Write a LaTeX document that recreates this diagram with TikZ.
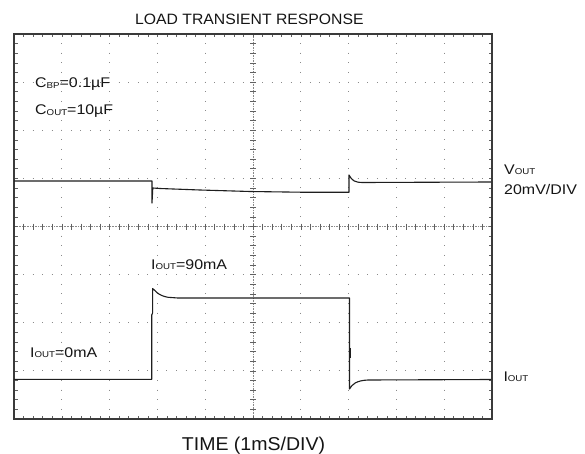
\documentclass[tikz,border=0pt]{standalone}
\usepackage{fontspec}
\setmainfont{Liberation Sans}
\newfontfamily\labf[FakeStretch=1.14]{Liberation Sans}
\newfontfamily\ttlf[FakeStretch=1.05]{Liberation Sans}
\newcommand{\sbx}[1]{\raisebox{-0.6pt}{\fontsize{8.5}{9}\selectfont #1}}
\definecolor{framec}{HTML}{3A3A3A}
\definecolor{gridc}{HTML}{8A8A8A}
\definecolor{tracec}{HTML}{1E1E1E}
\definecolor{textc}{HTML}{151515}
\begin{document}
\begin{tikzpicture}[x=1pt,y=-1pt,
  vdots/.style={gridc, line width=1pt, dash pattern=on 1pt off 8.625pt, dash phase=0.5pt},
  hdots/.style={gridc, line width=1pt, dash pattern=on 1pt off 8.56pt, dash phase=0.5pt},
  centerline/.style={gridc, line width=0.8pt, dash pattern=on 0.8pt off 0.8pt},
  tickc/.style={gridc!70!black, line width=0.6pt},
  frame/.style={framec, line width=1.3pt},
  trace/.style={tracec, line width=1.1pt, line join=round},
  lab/.style={anchor=base west, inner sep=0pt, text=textc, font=\labf\fontsize{14}{16}\selectfont},
  bigl/.style={anchor=base west, inner sep=0pt, text=textc}]
\useasboundingbox (0,0) rectangle (585,454);
\fill[white] (0,0) rectangle (585,454);
% dotted grid
\foreach \i in {1,2,3,4,6,7,8,9}
  \draw[vdots] ({14+47.8*\i},34) -- ({14+47.8*\i},419);
\foreach \j in {1,2,3,5,6,7}
  \draw[hdots] (14,{34+48.125*\j}) -- (492,{34+48.125*\j});
% center lines
\draw[centerline] (253,34) -- (253,419);
\draw[centerline] (14,226.5) -- (492,226.5);
% minor ticks
\foreach \k in {1,...,49}{
  \draw[tickc] ({14+9.56*\k},34) -- ({14+9.56*\k},37.5);
  \draw[tickc] ({14+9.56*\k},419) -- ({14+9.56*\k},415.5);
  \draw[tickc] ({14+9.56*\k},223.5) -- ({14+9.56*\k},229.5);
}
\foreach \k in {1,...,39}{
  \draw[tickc] (14,{34+9.625*\k}) -- (17.5,{34+9.625*\k});
  \draw[tickc] (492,{34+9.625*\k}) -- (488.5,{34+9.625*\k});
  \draw[tickc] (250,{34+9.625*\k}) -- (256,{34+9.625*\k});
}
% frame
\draw[frame] (14,34) rectangle (492,419);
% V_OUT trace
\draw[trace] (14,181) -- (152,181) -- (152,203) -- (152.8,188) -- (160,188.5)
  -- (200,190) -- (250,191.5) -- (300,192.2) -- (349,192.3) -- (349,175)
  .. controls (352,180.5) and (354.5,182.5) .. (363,182.5) -- (491,182);
% I_OUT trace
\draw[trace] (14,379.3) -- (151.7,379.3) -- (151.7,315) -- (152.6,313) -- (152.6,288.5)
  .. controls (155,290) and (157.5,295.5) .. (168,297.3) -- (178,298)
  -- (349.5,298) -- (349.5,389)
  .. controls (352,384.5) and (356,380.5) .. (368,380) -- (491,379.5);
\draw[tracec, line width=2.2pt] (349.8,348) -- (349.8,358);
% labels
\node[bigl, font=\ttlf\fontsize{15}{18}\selectfont] (title) at (135,25) {LOAD TRANSIENT RESPONSE};
\node[lab] (cbp) at (35,87.7) {C\sbx{BP}=0.1µF};
\node[lab] (cout) at (35,115) {C\sbx{OUT}=10µF};
\node[lab] (vout) at (504,174.3) {V\sbx{OUT}};
\node[lab] (vdiv) at (504,194.3) {20mV/DIV};
\node[lab] (i90) at (151,269) {I\sbx{OUT}=90mA};
\node[lab] (i0) at (30,357.3) {I\sbx{OUT}=0mA};
\node[lab] (iout) at (503.3,381) {I\sbx{OUT}};
\node[bigl, font=\ttlf\fontsize{18.6}{22}\selectfont] (time) at (181.7,450) {TIME (1mS/DIV)};
\end{tikzpicture}
\end{document}
